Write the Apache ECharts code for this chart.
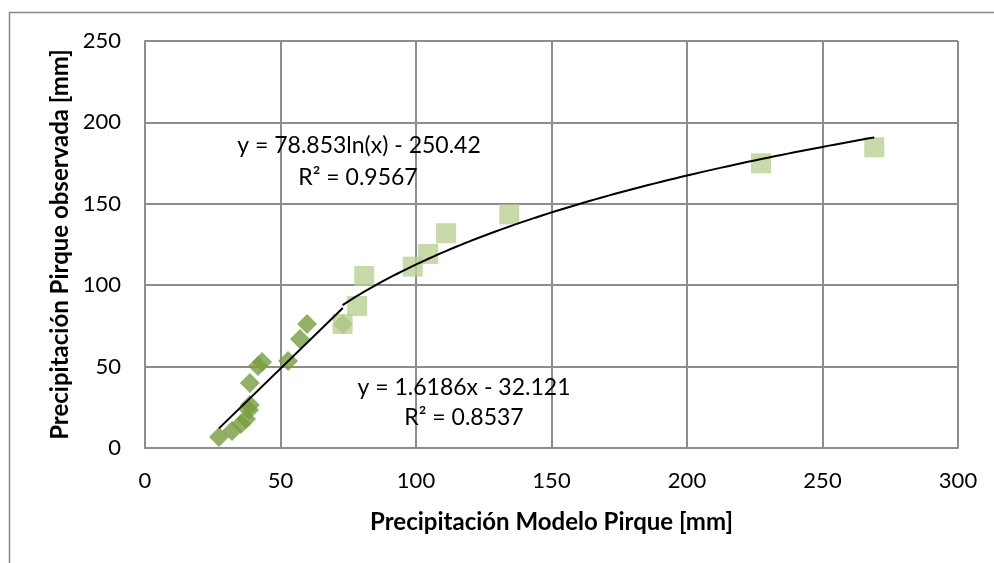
<!DOCTYPE html>
<html>
<head>
<meta charset="utf-8">
<script src="https://cdn.jsdelivr.net/npm/echarts@6/dist/echarts.min.js"></script>
<style>
  html, body { margin: 0; padding: 0; background: #fff; }
  #chart { width: 994px; height: 563px; }
</style>
</head>
<body>
<div id="chart"></div>
<script>
// Observed vs modelled precipitation, Pirque station [mm]
const lowModel = [27.3, 32.1, 35.4, 37.3, 38.4, 38.7, 38.7, 41.7, 43.2, 52.8, 57.2, 59.8, 73.0];
const lowObserved = [6.8, 10.4, 14.7, 17.8, 23.3, 26.4, 39.9, 50.4, 52.8, 53.4, 67.0, 76.2, 76.0];

const highModel = [72.9, 78.3, 80.9, 98.8, 104.5, 111.1, 134.4, 227.3, 269.1];
const highObserved = [76.2, 87.2, 105.7, 111.4, 119.2, 131.9, 143.5, 174.9, 184.7];

// Fitted trend coefficients (as stated in the equation labels)
const linearFit = { slope: 1.6186, intercept: -32.121, r2: 0.8537 };
const logFit = { coef: 78.853, intercept: -250.42, r2: 0.9567 };

const xTicks = [0, 50, 100, 150, 200, 250, 300];
const yTicks = [0, 50, 100, 150, 200, 250];

function span(values) {
  return [Math.min(...values), Math.max(...values)];
}

function linearTrend() {
  const [a, b] = span(lowModel);
  return [a, b].map(x => [x, linearFit.slope * x + linearFit.intercept]);
}

function logTrend() {
  const [a, b] = span(highModel);
  const pts = [];
  const n = 80;
  for (let i = 0; i <= n; i++) {
    const x = a + (b - a) * i / n;
    pts.push([x, logFit.coef * Math.log(x) + logFit.intercept]);
  }
  return pts;
}

const FONT = 'Lato, "Open Sans", sans-serif';
const GRID_COLOR = '#8c8c8c';
const EQ_FONT = '23px ' + FONT;

const chart = echarts.init(document.getElementById('chart'), null, { renderer: 'canvas' });

function eqText(x, y, text) {
  return {
    type: 'text', x: x, y: y, z: 10,
    style: { text: text, font: EQ_FONT, fill: '#000', align: 'center', verticalAlign: 'middle' }
  };
}

chart.setOption({
  animation: false,
  backgroundColor: '#ffffff',
  grid: { left: 145, top: 41, right: 36, bottom: 115, containLabel: false },
  xAxis: {
    type: 'value',
    min: xTicks[0],
    max: xTicks[xTicks.length - 1],
    interval: xTicks[1] - xTicks[0],
    name: 'Precipitación Modelo Pirque [mm]',
    nameLocation: 'middle',
    nameGap: 62,
    nameTextStyle: { fontFamily: FONT, fontWeight: 'bold', fontSize: 24, color: '#000' },
    axisLine: { show: true, lineStyle: { color: GRID_COLOR, width: 2 } },
    axisTick: { show: false },
    axisLabel: { fontFamily: FONT, fontSize: 22, color: '#000', margin: 22 },
    splitLine: { show: true, lineStyle: { color: GRID_COLOR, width: 2 } }
  },
  yAxis: {
    type: 'value',
    min: yTicks[0],
    max: yTicks[yTicks.length - 1],
    interval: yTicks[1] - yTicks[0],
    name: 'Precipitación Pirque observada [mm]',
    nameLocation: 'middle',
    nameGap: 71,
    nameRotate: 90,
    nameTextStyle: { fontFamily: FONT, fontWeight: 'bold', fontSize: 24, color: '#000' },
    axisLine: { show: true, lineStyle: { color: GRID_COLOR, width: 2 } },
    axisTick: { show: false },
    axisLabel: { fontFamily: FONT, fontSize: 22, color: '#000', margin: 24 },
    splitLine: { show: true, lineStyle: { color: GRID_COLOR, width: 2 } }
  },
  graphic: [
    {
      type: 'rect',
      shape: { x: 9.5, y: 12.5, width: 1000, height: 600 },
      style: { fill: 'none', stroke: '#8a8a8a', lineWidth: 1.5 },
      silent: true, z: -1
    },
    eqText(359, 146, 'y = ' + logFit.coef + 'ln(x) - ' + Math.abs(logFit.intercept)),
    eqText(358, 178, 'R² = ' + logFit.r2),
    eqText(464, 388, 'y = ' + linearFit.slope + 'x - ' + Math.abs(linearFit.intercept)),
    eqText(464, 418, 'R² = ' + linearFit.r2)
  ],
  series: [
    {
      name: 'low',
      type: 'scatter',
      symbol: 'diamond',
      symbolSize: 20,
      itemStyle: { color: '#789e40' },
      data: lowModel.map((x, i) => [x, lowObserved[i]]),
      z: 2
    },
    {
      name: 'high',
      type: 'scatter',
      symbol: 'rect',
      symbolSize: 20,
      itemStyle: { color: '#bad095' },
      data: highModel.map((x, i) => [x, highObserved[i]]),
      z: 3
    },
    {
      name: 'linear trend',
      type: 'line',
      showSymbol: false,
      symbol: 'none',
      lineStyle: { color: '#000', width: 2 },
      data: linearTrend(),
      z: 4
    },
    {
      name: 'log trend',
      type: 'line',
      showSymbol: false,
      symbol: 'none',
      lineStyle: { color: '#000', width: 2 },
      data: logTrend(),
      z: 4
    }
  ]
});
</script>
</body>
</html>
